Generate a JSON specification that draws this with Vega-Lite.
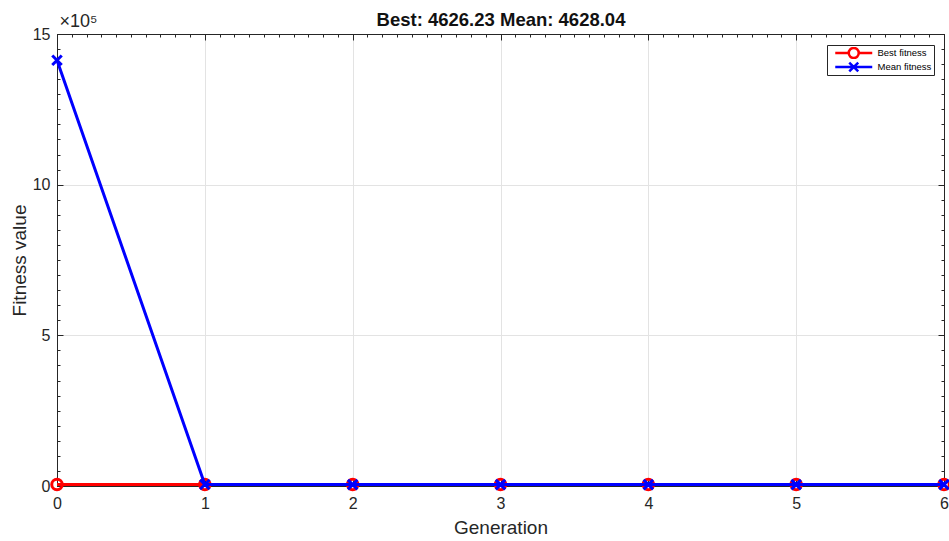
{
  "$schema": "https://vega.github.io/schema/vega-lite/v6.json",
  "autosize": "none",
  "width": 887,
  "height": 452,
  "padding": {"left": 57, "top": 34, "right": 5, "bottom": 55},
  "background": "white",
  "config": {
    "font": "Liberation Sans",
    "view": {"stroke": null},
    "axis": {"labelFont": "Liberation Sans", "titleFont": "Liberation Sans", "labelColor": "#262626", "titleColor": "#262626", "domainColor": "#262626", "tickColor": "#262626", "labelFontSize": 16, "titleFontSize": 19, "titleFontWeight": "normal", "gridColor": "#e3e3e3", "gridWidth": 1, "domainWidth": 1, "tickWidth": 1, "labelFlush": false, "labelOverlap": false, "labelBound": false}
  },
  "data": {"values": [
    {"gen": 0, "series": "Best fitness", "value": 5000},
    {"gen": 1, "series": "Best fitness", "value": 4700},
    {"gen": 2, "series": "Best fitness", "value": 4630},
    {"gen": 3, "series": "Best fitness", "value": 4627},
    {"gen": 4, "series": "Best fitness", "value": 4626.5},
    {"gen": 5, "series": "Best fitness", "value": 4626.3},
    {"gen": 6, "series": "Best fitness", "value": 4626.23},
    {"gen": 0, "series": "Mean fitness", "value": 1413000},
    {"gen": 1, "series": "Mean fitness", "value": 4900},
    {"gen": 2, "series": "Mean fitness", "value": 4640},
    {"gen": 3, "series": "Mean fitness", "value": 4630},
    {"gen": 4, "series": "Mean fitness", "value": 4629},
    {"gen": 5, "series": "Mean fitness", "value": 4628.5},
    {"gen": 6, "series": "Mean fitness", "value": 4628.04}
  ]},
  "resolve": {"axis": {"x": "independent", "y": "independent"}},
  "layer": [
    {
      "transform": [{"filter": "datum.series === 'Best fitness'"}],
      "mark": {"type": "line", "strokeWidth": 3},
      "encoding": {
        "x": {"field": "gen", "type": "quantitative", "scale": {"domain": [0, 6], "nice": false, "zero": false},
              "axis": {"orient": "bottom", "values": [0,1,2,3,4,5,6], "grid": true, "tickSize": -6, "labelPadding": 15, "title": "Generation", "titlePadding": 7, "domain": true}},
        "y": {"field": "value", "type": "quantitative", "scale": {"domain": [0, 1500000], "nice": false},
              "axis": {"orient": "left", "values": [0, 500000, 1000000, 1500000], "labelExpr": "datum.value === 0 ? '0' : format(datum.value/100000, 'd')", "grid": true, "tickSize": -6, "labelPadding": 13, "title": "Fitness value", "titlePadding": 3}},
        "color": {"field": "series", "type": "nominal", "scale": {"domain": ["Best fitness", "Mean fitness"], "range": ["#ff0000", "#0000ff"]},
                  "legend": {"orient": "none", "legendX": 770, "legendY": 11, "title": null, "fillColor": "white", "strokeColor": "#262626", "padding": 2, "clipHeight": 12, "labelFontSize": 9.5, "labelFont": "Liberation Sans", "labelColor": "#000", "symbolSize": 40, "symbolStrokeWidth": 2.5, "rowPadding": 2, "labelOffset": 19, "symbolOffset": 20, "symbolType": "stroke",
                    "encode": {"symbols": {"update": {"shape": {"signal": "datum.value === 'Best fitness' ? 'M-5.85,0L-1.58,0M1.58,0L5.85,0M-1.58,0A1.58,1.58,0,1,1,1.58,0A1.58,1.58,0,1,1,-1.58,0' : 'M-5.85,0L5.85,0M-1.42,-1.42L1.42,1.42M-1.42,1.42L1.42,-1.42'"}, "strokeWidth": {"value": 2.5}, "fill": {"value": "transparent"}}}}}}
      }
    },
    {
      "transform": [{"filter": "datum.series === 'Best fitness'"}],
      "mark": {"type": "point", "filled": false, "strokeWidth": 3, "size": 110, "shape": "circle", "opacity": 1},
      "encoding": {
        "x": {"field": "gen", "type": "quantitative", "axis": {"orient": "bottom", "values": [0,0.1,0.2,0.3,0.4,0.5,0.6,0.7,0.8,0.9,1,1.1,1.2,1.3,1.4,1.5,1.6,1.7,1.8,1.9,2,2.1,2.2,2.3,2.4,2.5,2.6,2.7,2.8,2.9,3,3.1,3.2,3.3,3.4,3.5,3.6,3.7,3.8,3.9,4,4.1,4.2,4.3,4.4,4.5,4.6,4.7,4.8,4.9,5,5.1,5.2,5.3,5.4,5.5,5.6,5.7,5.8,5.9,6], "labels": false, "grid": false, "domain": false, "tickSize": -3, "title": null}},
        "y": {"field": "value", "type": "quantitative", "axis": {"orient": "left", "values": [0,50000,100000,150000,200000,250000,300000,350000,400000,450000,500000,550000,600000,650000,700000,750000,800000,850000,900000,950000,1000000,1050000,1100000,1150000,1200000,1250000,1300000,1350000,1400000,1450000,1500000], "labels": false, "grid": false, "domain": false, "tickSize": -3, "title": "×10⁵", "titleAngle": 0, "titleAlign": "left", "titleBaseline": "alphabetic", "titleX": 2, "titleY": -8, "titleFontSize": 18}},
        "color": {"field": "series", "type": "nominal", "legend": null}
      }
    },
    {
      "transform": [{"filter": "datum.series === 'Mean fitness'"}],
      "mark": {"type": "line", "strokeWidth": 3},
      "encoding": {
        "x": {"field": "gen", "type": "quantitative", "axis": {"orient": "top", "values": [0,1,2,3,4,5,6], "labels": false, "grid": false, "tickSize": -6, "domain": true, "title": "Best: 4626.23 Mean: 4628.04", "titleFontWeight": "bold", "titleFontSize": 18.5, "titleColor": "#111111", "titleY": -9, "titleBaseline": "alphabetic", "titleAnchor": "middle"}},
        "y": {"field": "value", "type": "quantitative", "axis": {"orient": "right", "values": [0, 500000, 1000000, 1500000], "labels": false, "grid": false, "tickSize": -6, "title": null, "domain": true}},
        "color": {"field": "series", "type": "nominal", "legend": null}
      }
    },
    {
      "transform": [{"filter": "datum.series === 'Mean fitness'"}],
      "mark": {"type": "point", "filled": false, "strokeWidth": 3, "size": 90, "shape": "M-1,-1L1,1M-1,1L1,-1", "opacity": 1},
      "encoding": {
        "x": {"field": "gen", "type": "quantitative", "axis": {"orient": "top", "values": [0,0.1,0.2,0.3,0.4,0.5,0.6,0.7,0.8,0.9,1,1.1,1.2,1.3,1.4,1.5,1.6,1.7,1.8,1.9,2,2.1,2.2,2.3,2.4,2.5,2.6,2.7,2.8,2.9,3,3.1,3.2,3.3,3.4,3.5,3.6,3.7,3.8,3.9,4,4.1,4.2,4.3,4.4,4.5,4.6,4.7,4.8,4.9,5,5.1,5.2,5.3,5.4,5.5,5.6,5.7,5.8,5.9,6], "labels": false, "grid": false, "domain": false, "tickSize": -3, "title": null}},
        "y": {"field": "value", "type": "quantitative", "axis": {"orient": "right", "values": [0,50000,100000,150000,200000,250000,300000,350000,400000,450000,500000,550000,600000,650000,700000,750000,800000,850000,900000,950000,1000000,1050000,1100000,1150000,1200000,1250000,1300000,1350000,1400000,1450000,1500000], "labels": false, "grid": false, "domain": false, "tickSize": -3, "title": null}},
        "color": {"field": "series", "type": "nominal", "legend": null}
      }
    }
  ]
}
